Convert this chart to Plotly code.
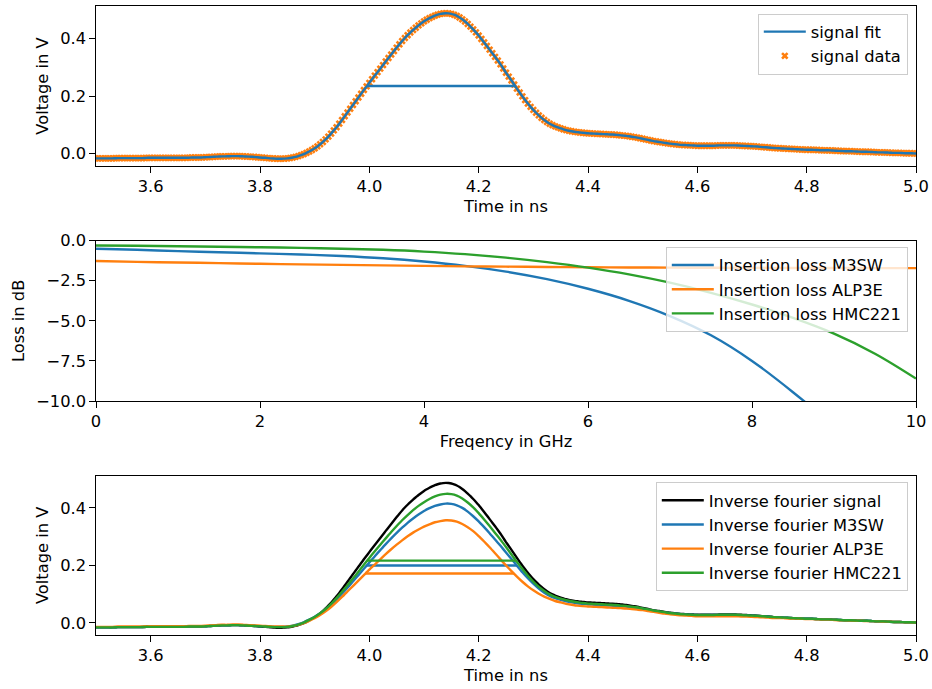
import numpy as np
import plotly.graph_objects as go

# ---------------------------------------------------------------- data
# measured pulse, sampled every 5 ps from 3.5 ns to 5.0 ns
signal_t = np.round(np.linspace(3.5, 5.0, 301), 3)
signal_v = [
    -0.016, -0.016, -0.016, -0.016, -0.016, -0.016, -0.016, -0.0155, -0.015, -0.015,
    -0.015, -0.015, -0.015, -0.015, -0.015, -0.015, -0.015, -0.015, -0.0145, -0.014,
    -0.014, -0.014, -0.014, -0.014, -0.014, -0.014, -0.014, -0.014, -0.014, -0.014,
    -0.014, -0.014, -0.014, -0.014, -0.0135, -0.013, -0.013, -0.013, -0.013, -0.0125,
    -0.012, -0.0115, -0.011, -0.0105, -0.010, -0.0095, -0.009, -0.009, -0.0088, -0.0083,
    -0.008, -0.008, -0.008, -0.0085, -0.009, -0.0095, -0.010, -0.0105, -0.011, -0.012,
    -0.013, -0.0135, -0.014, -0.015, -0.016, -0.0165, -0.017, -0.0172, -0.017, -0.0167,
    -0.016, -0.0147, -0.013, -0.0107, -0.008, -0.0047, -0.001, 0.0033, 0.008, 0.013,
    0.019, 0.0255, 0.033, 0.041, 0.050, 0.0597, 0.070, 0.081, 0.092, 0.1043,
    0.117, 0.130, 0.143, 0.156, 0.169, 0.182, 0.195, 0.208, 0.221, 0.2335,
    0.246, 0.2585, 0.271, 0.283, 0.295, 0.3075, 0.320, 0.332, 0.344, 0.356,
    0.368, 0.3795, 0.391, 0.4013, 0.411, 0.4203, 0.429, 0.437, 0.445, 0.4522,
    0.459, 0.4647, 0.470, 0.4747, 0.479, 0.4823, 0.485, 0.4864, 0.487, 0.4865,
    0.485, 0.482, 0.478, 0.4725, 0.466, 0.4585, 0.450, 0.4408, 0.431, 0.4208,
    0.410, 0.398, 0.386, 0.3737, 0.361, 0.3486, 0.336, 0.3232, 0.310, 0.2955,
    0.281, 0.2675, 0.254, 0.240, 0.226, 0.2123, 0.199, 0.1862, 0.174, 0.1627,
    0.152, 0.1422, 0.133, 0.1247, 0.117, 0.1102, 0.104, 0.0992, 0.095, 0.0913,
    0.088, 0.0849, 0.082, 0.0798, 0.078, 0.0764, 0.075, 0.0739, 0.073, 0.0719,
    0.071, 0.0705, 0.070, 0.0695, 0.069, 0.0685, 0.068, 0.0675, 0.067, 0.0666,
    0.066, 0.0651, 0.064, 0.0631, 0.062, 0.0606, 0.059, 0.0576, 0.056, 0.054,
    0.052, 0.050, 0.048, 0.046, 0.044, 0.0425, 0.041, 0.0395, 0.038, 0.0365,
    0.035, 0.034, 0.033, 0.032, 0.031, 0.0305, 0.030, 0.0295, 0.029, 0.0285,
    0.028, 0.028, 0.028, 0.028, 0.028, 0.028, 0.028, 0.0285, 0.029, 0.029,
    0.029, 0.029, 0.029, 0.029, 0.029, 0.0285, 0.028, 0.0275, 0.027, 0.0265,
    0.026, 0.0255, 0.025, 0.024, 0.023, 0.0225, 0.022, 0.021, 0.020, 0.0195,
    0.019, 0.0185, 0.018, 0.0175, 0.017, 0.0165, 0.016, 0.0155, 0.015, 0.0145,
    0.014, 0.014, 0.014, 0.0135, 0.013, 0.0125, 0.012, 0.012, 0.012, 0.0115,
    0.011, 0.0105, 0.010, 0.0095, 0.009, 0.009, 0.009, 0.0085, 0.008, 0.0075,
    0.007, 0.007, 0.007, 0.0065, 0.006, 0.0055, 0.005, 0.005, 0.005, 0.0045,
    0.004, 0.0035, 0.003, 0.003, 0.003, 0.0025, 0.002, 0.002, 0.002, 0.0015,
    0.001,
]

# insertion loss of the three switches, 0 .. 10 GHz in 0.5 GHz steps
freq_ghz = np.round(np.linspace(0, 10, 21), 1)
loss_m3sw = [-0.50, -0.57, -0.65, -0.72, -0.79, -0.86, -0.96, -1.10, -1.30, -1.57,
             -1.93, -2.40, -3.00, -3.75, -4.70, -5.90, -7.50, -9.45, -11.6, -14.0, -16.6]
loss_alp3e = [-1.27, -1.32, -1.36, -1.40, -1.44, -1.48, -1.51, -1.54, -1.57, -1.60,
              -1.62, -1.64, -1.66, -1.67, -1.68, -1.69, -1.69, -1.70, -1.70, -1.71, -1.71]
loss_hmc221 = [-0.30, -0.32, -0.35, -0.38, -0.41, -0.45, -0.50, -0.57, -0.68, -0.84,
               -1.06, -1.34, -1.68, -2.10, -2.62, -3.25, -3.98, -4.82, -5.80, -7.05, -8.60]

# pulse after passing each switch (inverse Fourier transform), 10 ps steps
ifft_t = np.round(np.linspace(3.5, 5.0, 151), 2)
ifft_m3sw = [
    -0.016, -0.016, -0.016, -0.016, -0.015, -0.015, -0.015, -0.015, -0.015, -0.014,
    -0.014, -0.014, -0.014, -0.014, -0.014, -0.014, -0.014, -0.013, -0.013, -0.013,
    -0.012, -0.011, -0.010, -0.009, -0.009, -0.008, -0.008, -0.009, -0.010, -0.011,
    -0.012, -0.013, -0.014, -0.014, -0.014, -0.013, -0.010, -0.005, 0.002, 0.011,
    0.021, 0.033, 0.047, 0.063, 0.081, 0.101, 0.122, 0.144, 0.166, 0.188,
    0.210, 0.232, 0.253, 0.274, 0.294, 0.313, 0.331, 0.348, 0.363, 0.377,
    0.389, 0.399, 0.407, 0.412, 0.415, 0.414, 0.409, 0.400, 0.387, 0.371,
    0.353, 0.333, 0.312, 0.290, 0.268, 0.245, 0.222, 0.199, 0.176, 0.155,
    0.136, 0.119, 0.105, 0.094, 0.086, 0.080, 0.075, 0.071, 0.068, 0.066,
    0.064, 0.063, 0.062, 0.061, 0.060, 0.059, 0.058, 0.056, 0.054, 0.052,
    0.049, 0.046, 0.042, 0.039, 0.036, 0.034, 0.032, 0.030, 0.029, 0.028,
    0.027, 0.027, 0.027, 0.027, 0.027, 0.027, 0.027, 0.027, 0.026, 0.026,
    0.025, 0.024, 0.022, 0.021, 0.020, 0.019, 0.018, 0.017, 0.016, 0.015,
    0.014, 0.014, 0.013, 0.012, 0.012, 0.011, 0.010, 0.009, 0.009, 0.008,
    0.007, 0.007, 0.006, 0.005, 0.005, 0.004, 0.003, 0.003, 0.002, 0.002, 0.001,
]
ifft_alp3e = [
    -0.014, -0.014, -0.014, -0.014, -0.013, -0.013, -0.013, -0.013, -0.013, -0.012,
    -0.012, -0.012, -0.012, -0.012, -0.012, -0.012, -0.012, -0.011, -0.011, -0.011,
    -0.010, -0.009, -0.008, -0.007, -0.007, -0.006, -0.006, -0.007, -0.008, -0.009,
    -0.010, -0.011, -0.012, -0.013, -0.013, -0.013, -0.011, -0.007, -0.001, 0.007,
    0.016, 0.027, 0.040, 0.055, 0.072, 0.090, 0.109, 0.128, 0.147, 0.166,
    0.185, 0.203, 0.221, 0.239, 0.256, 0.272, 0.287, 0.301, 0.314, 0.325,
    0.335, 0.343, 0.350, 0.354, 0.357, 0.356, 0.352, 0.344, 0.333, 0.319,
    0.302, 0.283, 0.263, 0.242, 0.221, 0.200, 0.180, 0.161, 0.143, 0.127,
    0.113, 0.101, 0.091, 0.083, 0.076, 0.071, 0.066, 0.063, 0.060, 0.058,
    0.057, 0.056, 0.055, 0.054, 0.053, 0.052, 0.051, 0.050, 0.048, 0.046,
    0.044, 0.041, 0.038, 0.035, 0.032, 0.030, 0.028, 0.026, 0.025, 0.024,
    0.023, 0.023, 0.023, 0.023, 0.023, 0.023, 0.023, 0.023, 0.022, 0.022,
    0.021, 0.020, 0.019, 0.018, 0.017, 0.017, 0.016, 0.015, 0.015, 0.014,
    0.013, 0.013, 0.012, 0.011, 0.011, 0.010, 0.009, 0.009, 0.008, 0.007,
    0.007, 0.006, 0.006, 0.005, 0.004, 0.004, 0.003, 0.003, 0.002, 0.002, 0.001,
]
ifft_hmc221 = [
    -0.016, -0.016, -0.016, -0.016, -0.015, -0.015, -0.015, -0.015, -0.015, -0.014,
    -0.014, -0.014, -0.014, -0.014, -0.014, -0.014, -0.014, -0.013, -0.013, -0.013,
    -0.012, -0.011, -0.010, -0.009, -0.009, -0.008, -0.008, -0.009, -0.010, -0.011,
    -0.012, -0.013, -0.014, -0.015, -0.015, -0.014, -0.011, -0.006, 0.001, 0.010,
    0.020, 0.033, 0.048, 0.066, 0.086, 0.108, 0.131, 0.154, 0.178, 0.202,
    0.226, 0.249, 0.272, 0.294, 0.316, 0.337, 0.357, 0.375, 0.392, 0.407,
    0.420, 0.431, 0.440, 0.446, 0.449, 0.448, 0.443, 0.433, 0.419, 0.402,
    0.382, 0.360, 0.337, 0.313, 0.289, 0.264, 0.238, 0.212, 0.187, 0.164,
    0.143, 0.125, 0.111, 0.099, 0.090, 0.084, 0.079, 0.075, 0.072, 0.069,
    0.067, 0.066, 0.065, 0.064, 0.063, 0.062, 0.060, 0.059, 0.056, 0.054,
    0.050, 0.047, 0.043, 0.040, 0.037, 0.034, 0.032, 0.030, 0.029, 0.028,
    0.027, 0.027, 0.027, 0.027, 0.028, 0.028, 0.028, 0.028, 0.027, 0.026,
    0.025, 0.024, 0.023, 0.021, 0.020, 0.019, 0.018, 0.017, 0.016, 0.015,
    0.014, 0.014, 0.013, 0.012, 0.012, 0.011, 0.010, 0.009, 0.009, 0.008,
    0.007, 0.007, 0.006, 0.005, 0.005, 0.004, 0.003, 0.003, 0.002, 0.002, 0.001,
]

# ---------------------------------------------------------------- helpers
BLUE, ORANGE, GREEN, BLACK = "#1f77b4", "#ff7f0e", "#2ca02c", "black"
LW = 2.4
FS = 16.3
FONT = "DejaVu Sans"


def half_max_span(t, v):
    """Times where the pulse crosses (max+min)/2 on its rising and falling edge."""
    t = np.asarray(t, float)
    v = np.asarray(v, float)
    level = (v.max() + v.min()) / 2
    ip = int(np.argmax(v))
    i = np.where(v[:ip] < level)[0][-1]
    t1 = t[i] + (level - v[i]) * (t[i + 1] - t[i]) / (v[i + 1] - v[i])
    j = ip + np.where(v[ip:] < level)[0][0]
    t2 = t[j - 1] + (level - v[j - 1]) * (t[j] - t[j - 1]) / (v[j] - v[j - 1])
    return [t1, t2], [level, level]


def padded_range(*series):
    lo = min(min(s) for s in series)
    hi = max(max(s) for s in series)
    pad = 0.05 * (hi - lo)
    return [lo - pad, hi + pad]


fig = go.Figure()

# ---- panel 1: pulse fit
fig.add_trace(go.Scatter(
    x=signal_t, y=signal_v, mode="markers", name="signal data",
    marker=dict(symbol="x", size=6.5, color=ORANGE, line=dict(width=0)),
    xaxis="x", yaxis="y", legend="legend", legendrank=2))
fig.add_trace(go.Scatter(
    x=signal_t, y=signal_v, mode="lines", name="signal fit",
    line=dict(color=BLUE, width=LW, shape="spline", smoothing=0.5),
    xaxis="x", yaxis="y", legend="legend", legendrank=1))
hx, hy = half_max_span(signal_t, signal_v)
fig.add_trace(go.Scatter(x=hx, y=hy, mode="lines", showlegend=False,
                         line=dict(color=BLUE, width=LW), xaxis="x", yaxis="y"))

# ---- panel 2: insertion loss
for name, vals, col in [("Insertion loss M3SW", loss_m3sw, BLUE),
                        ("Insertion loss ALP3E", loss_alp3e, ORANGE),
                        ("Insertion loss HMC221", loss_hmc221, GREEN)]:
    fig.add_trace(go.Scatter(
        x=freq_ghz, y=vals, mode="lines", name=name,
        line=dict(color=col, width=LW, shape="spline", smoothing=1.0),
        xaxis="x2", yaxis="y2", legend="legend2"))

# ---- panel 3: inverse Fourier transforms
fig.add_trace(go.Scatter(
    x=signal_t, y=signal_v, mode="lines", name="Inverse fourier signal",
    line=dict(color=BLACK, width=LW, shape="spline", smoothing=0.5),
    xaxis="x3", yaxis="y3", legend="legend3"))
for name, vals, col in [("Inverse fourier M3SW", ifft_m3sw, BLUE),
                        ("Inverse fourier ALP3E", ifft_alp3e, ORANGE),
                        ("Inverse fourier HMC221", ifft_hmc221, GREEN)]:
    fig.add_trace(go.Scatter(
        x=ifft_t, y=vals, mode="lines", name=name,
        line=dict(color=col, width=LW, shape="spline", smoothing=0.6),
        xaxis="x3", yaxis="y3", legend="legend3"))
    hx, hy = half_max_span(ifft_t, vals)
    fig.add_trace(go.Scatter(x=hx, y=hy, mode="lines", showlegend=False,
                             line=dict(color=col, width=LW),
                             xaxis="x3", yaxis="y3"))

# ---------------------------------------------------------------- layout
axis = dict(showline=True, linecolor="black", linewidth=1.2, mirror=True,
            ticks="outside", ticklen=5.5, tickwidth=1.2, tickcolor="black",
            tickfont=dict(size=FS, color="black", family=FONT),
            showgrid=False, zeroline=False, automargin=False)


def xaxis(title, rng, dtick, fmt, anchor):
    return dict(axis, range=rng, dtick=dtick, tick0=0, tickformat=fmt,
                anchor=anchor, domain=[0, 1],
                title=dict(text=title, standoff=5,
                           font=dict(size=FS, color="black", family=FONT)))


def yaxis(title, rng, dom, tickvals, fmt, anchor):
    return dict(axis, range=rng, domain=dom, tickvals=tickvals, tickformat=fmt,
                anchor=anchor,
                title=dict(text=title, standoff=7,
                           font=dict(size=FS, color="black", family=FONT)))


legend_style = dict(bgcolor="rgba(255,255,255,0.8)", bordercolor="#cccccc",
                    borderwidth=1, font=dict(size=FS, color="black", family=FONT),
                    xanchor="right", yanchor="top", x=0.99, itemwidth=42,
                    traceorder="normal")

fig.update_layout(
    width=932, height=689,
    margin=dict(l=96, r=16, t=6, b=54, pad=0),
    paper_bgcolor="white", plot_bgcolor="white",
    font=dict(family=FONT, size=FS, color="black"),
    xaxis=xaxis("Time in ns", [3.5, 5.0], 0.2, ".1f", "y"),
    yaxis=yaxis("Voltage in V", padded_range(signal_v), [0.7456, 1.0],
                [0.0, 0.2, 0.4], ".1f", "x"),
    xaxis2=xaxis("Freqency in GHz", [0, 10], 2, "d", "y2"),
    yaxis2=yaxis("Loss in dB", [-10, 0], [0.3720, 0.6269],
                 [-10, -7.5, -5, -2.5, 0], ".1f", "x2"),
    xaxis3=xaxis("Time in ns", [3.5, 5.0], 0.2, ".1f", "y3"),
    yaxis3=yaxis("Voltage in V",
                 padded_range(signal_v, ifft_m3sw, ifft_alp3e, ifft_hmc221),
                 [0.0, 0.2533], [0.0, 0.2, 0.4], ".1f", "x3"),
    legend=dict(legend_style, y=0.988),
    legend2=dict(legend_style, y=0.617),
    legend3=dict(legend_style, y=0.243),
    showlegend=True,
)

fig.write_html("out.html")
